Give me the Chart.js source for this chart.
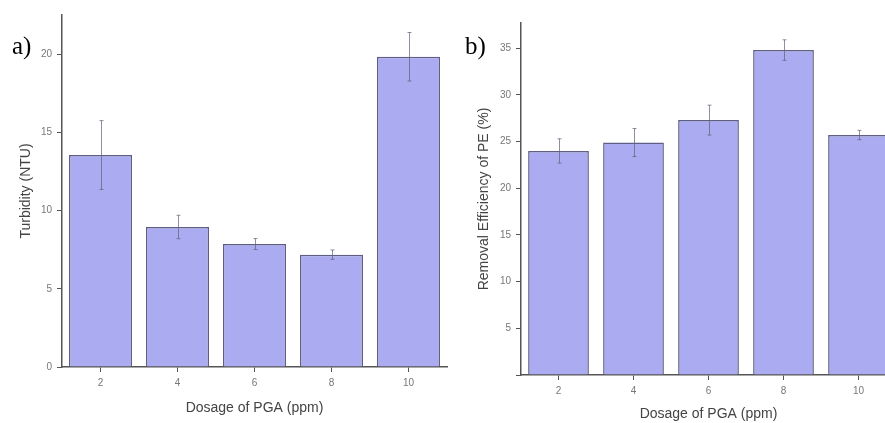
<!DOCTYPE html>
<html>
<head>
<meta charset="utf-8">
<script src="https://cdn.jsdelivr.net/npm/chart.js@4/dist/chart.umd.min.js"></script>
<style>
  html, body { margin: 0; padding: 0; background: #fff; overflow: hidden; width: 885px; height: 423px; }
  .panel { position: absolute; top: 0; height: 423px; }
  #left { left: 0; width: 450px; }
  #right { left: 450px; width: 450px; }
  .tag { position: absolute; font-family: "Liberation Serif", "DejaVu Serif", serif; font-size: 25px; color: #000; line-height: 1; }
</style>
</head>
<body>
<div class="panel" id="left"><canvas id="chart-turbidity" width="450" height="423"></canvas></div>
<div class="panel" id="right"><canvas id="chart-removal" width="450" height="423"></canvas></div>
<div class="tag" style="left:12px; top:33px;">a)</div>
<div class="tag" style="left:465px; top:33px;">b)</div>
<script>
const doses = ["2", "4", "6", "8", "10"]
const turbidity = [13.55, 8.95, 7.86, 7.18, 19.83]
const turbidityErr = [2.2, 0.75, 0.35, 0.3, 1.55]
const removal = [24.0, 24.9, 27.3, 34.8, 25.7]
const removalErr = [1.3, 1.5, 1.6, 1.1, 0.5]

const STYLE = {
  fill: "#ababf1",
  border: "#5e5e86",
  axis: "#555555",
  tick: "#777777",
  title: "#444444",
  err: "rgba(95, 95, 120, 0.7)",
}

const errorBars = {
  id: "errorBars",
  afterDatasetsDraw(chart, args, opts) {
    const { ctx } = chart
    const y = chart.scales.y
    const meta = chart.getDatasetMeta(0)
    const values = chart.data.datasets[0].data
    ctx.save()
    ctx.strokeStyle = STYLE.err
    ctx.lineWidth = 1
    meta.data.forEach((bar, i) => {
      const top = y.getPixelForValue(values[i] + opts.errors[i])
      const bottom = y.getPixelForValue(values[i] - opts.errors[i])
      const x = Math.round(bar.x) + 0.5
      ctx.beginPath()
      ctx.moveTo(x, top)
      ctx.lineTo(x, bottom)
      ctx.moveTo(x - 2, top)
      ctx.lineTo(x + 2, top)
      ctx.moveTo(x - 2, bottom)
      ctx.lineTo(x + 2, bottom)
      ctx.stroke()
    })
    ctx.restore()
  },
}

function makeChart(canvas, cfg) {
  return new Chart(canvas, {
    type: "bar",
    data: {
      labels: doses,
      datasets: [{
        data: cfg.values,
        backgroundColor: STYLE.fill,
        borderColor: STYLE.border,
        borderWidth: 1.5,
        categoryPercentage: 1,
        barPercentage: cfg.barPct,
      }],
    },
    options: {
      responsive: false,
      animation: false,
      layout: { padding: cfg.padding },
      plugins: {
        legend: { display: false },
        tooltip: { enabled: false },
        errorBars: { errors: cfg.errors },
      },
      scales: {
        x: {
          offset: true,
          grid: { display: true, drawOnChartArea: false, drawTicks: true, tickLength: 5, color: STYLE.axis, offset: false },
          border: { display: true, color: STYLE.axis, width: 1.5 },
          ticks: { color: STYLE.tick, font: { family: "Liberation Sans", size: 10 }, padding: 5, maxRotation: 0 },
          title: { display: true, text: "Dosage of PGA (ppm)", color: STYLE.title, font: { family: "Liberation Sans", size: 14 }, padding: { top: 3, bottom: cfg.xTitleBottom } },
          afterFit(scale) { scale.height = cfg.xHeight },
        },
        y: {
          min: 0,
          max: cfg.max,
          grid: { display: true, drawOnChartArea: false, drawTicks: true, tickLength: 5, color: STYLE.axis },
          border: { display: true, color: STYLE.axis, width: 1.5 },
          ticks: {
            stepSize: 5,
            includeBounds: false,
            color: STYLE.tick,
            font: { family: "Liberation Sans", size: 10 },
            padding: 5,
            callback: (v) => (cfg.hideZero && v === 0 ? "" : v),
          },
          title: { display: true, text: cfg.yTitle, color: STYLE.title, font: { family: "Liberation Sans", size: 14 }, padding: { top: cfg.yTitlePad, bottom: 0 } },
          afterFit(scale) { scale.width = cfg.yWidth },
        },
      },
    },
    plugins: [errorBars],
  })
}

makeChart(document.getElementById("chart-turbidity"), {
  values: turbidity,
  errors: turbidityErr,
  max: 22.5,
  barPct: 0.82,
  yTitle: "Turbidity (NTU)",
  hideZero: false,
  padding: { left: 0, top: 15, right: 3, bottom: 0 },
  yWidth: 62,
  xHeight: 56,
  yTitlePad: 18,
  xTitleBottom: 6,
})

makeChart(document.getElementById("chart-removal"), {
  values: removal,
  errors: removalErr,
  max: 37.7,
  barPct: 0.81,
  yTitle: "Removal Efficiency of PE (%)",
  hideZero: true,
  padding: { left: 0, top: 23, right: 4, bottom: 0 },
  yWidth: 71,
  xHeight: 48,
  yTitlePad: 26,
  xTitleBottom: 0,
})
</script>
</body>
</html>
